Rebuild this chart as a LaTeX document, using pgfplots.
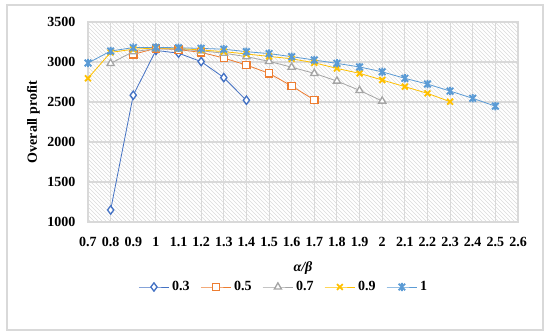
\documentclass[border=0pt]{standalone}
\usepackage{fontspec}
\setmainfont{Liberation Serif}
\usepackage{pgfplots}
\pgfplotsset{compat=1.18}
\usetikzlibrary{patterns}
\definecolor{cA}{HTML}{4472C4}
\definecolor{cB}{HTML}{ED7D31}
\definecolor{cC}{HTML}{A5A5A5}
\definecolor{cD}{HTML}{FFC000}
\definecolor{cE}{HTML}{5B9BD5}
\definecolor{gridc}{HTML}{D9D9D9}
\pgfdeclareplotmark{xstar}{%
  \pgfpathmoveto{\pgfqpoint{-0.8\pgfplotmarksize}{-0.8\pgfplotmarksize}}%
  \pgfpathlineto{\pgfqpoint{0.8\pgfplotmarksize}{0.8\pgfplotmarksize}}%
  \pgfpathmoveto{\pgfqpoint{-0.8\pgfplotmarksize}{0.8\pgfplotmarksize}}%
  \pgfpathlineto{\pgfqpoint{0.8\pgfplotmarksize}{-0.8\pgfplotmarksize}}%
  \pgfpathmoveto{\pgfqpoint{0pt}{-\pgfplotmarksize}}%
  \pgfpathlineto{\pgfqpoint{0pt}{\pgfplotmarksize}}%
  \pgfusepathqstroke}
\begin{document}
\begin{tikzpicture}
\path[use as bounding box] (-66pt,-84.75pt) rectangle (346.5pt,166.5pt);
\draw[gridc, line width=0.8pt] (-60.75pt,-81pt) rectangle (341.25pt,162.75pt);
\begin{axis}[
  at={(0,0)}, anchor=origin,
  scale only axis, width=322.5pt, height=150pt,
  xmin=0.7, xmax=2.6, ymin=1000, ymax=3500,
  xtick={0.7,0.8,...,2.61},
  ytick={1000,1500,...,3500},
  xticklabels={0.7,0.8,0.9,1,1.1,1.2,1.3,1.4,1.5,1.6,1.7,1.8,1.9,2,2.1,2.2,2.3,2.4,2.5,2.6},
  /pgf/number format/assume math mode=true,
  yticklabel style={/pgf/number format/1000 sep={}, xshift=-6pt},
  xticklabel style={yshift=-8pt},
  ticklabel style={font=\bfseries\fontsize{10.5}{12}\selectfont},
  major tick length=0pt,
  grid=major,
  grid style={gridc, line width=0.8pt},
  axis line style={gridc, line width=0.8pt},
  axis background/.style={pattern=north west lines, pattern color=black!14},
  xlabel={\textbf{\textit{α/β}}},
  every axis x label/.style={at={(axis description cs:0.5,0)}, anchor=center, yshift=-34.5pt, font=\fontsize{10.5}{12}\selectfont},
  legend style={at={(axis description cs:0.456,-0.325)}, anchor=center, legend columns=-1, draw=none, fill=none, font=\bfseries\fontsize{10.5}{12}\selectfont, /tikz/every even column/.append style={column sep=6pt}},
  legend image code/.code={\draw[mark repeat=2,mark phase=2] plot coordinates {(0cm,0cm) (0.4cm,0cm) (0.8cm,0cm)};},
  every axis plot/.append style={line width=0.6pt, mark size=3.1pt, mark options={solid, fill=white, line width=1pt}},
]
\addplot[cA, mark=diamond*] coordinates {(0.8,1150)(0.9,2585)(1.0,3145)(1.1,3110)(1.2,3005)(1.3,2805)(1.4,2522)};
\addlegendentry{0.3}
\addplot[cB, mark=square*, mark size=2.7pt] coordinates {(0.9,3096)(1.0,3170)(1.1,3155)(1.2,3120)(1.3,3050)(1.4,2962)(1.5,2858)(1.6,2700)(1.7,2525)};
\addlegendentry{0.5}
\addplot[cC, mark=triangle*] coordinates {(0.8,2983)(0.9,3130)(1.0,3165)(1.1,3160)(1.2,3140)(1.3,3110)(1.4,3067)(1.5,3008)(1.6,2935)(1.7,2858)(1.8,2762)(1.9,2645)(2.0,2512)};
\addlegendentry{0.7}
\addplot[cD, mark=x, mark options={line width=1.4pt}] coordinates {(0.7,2796)(0.8,3120)(0.9,3160)(1.0,3175)(1.1,3170)(1.2,3150)(1.3,3130)(1.4,3100)(1.5,3070)(1.6,3040)(1.7,2990)(1.8,2920)(1.9,2858)(2.0,2775)(2.1,2692)(2.2,2608)(2.3,2504)};
\addlegendentry{0.9}
\addplot[cE, mark=xstar, mark options={line width=1.4pt}] coordinates {(0.7,2987)(0.8,3137)(0.9,3180)(1.0,3182)(1.1,3178)(1.2,3170)(1.3,3160)(1.4,3129)(1.5,3105)(1.6,3067)(1.7,3025)(1.8,2983)(1.9,2938)(2.0,2877)(2.1,2796)(2.2,2724)(2.3,2637)(2.4,2546)(2.5,2448)};
\addlegendentry{1}
\end{axis}
\node[rotate=90, font=\bfseries\fontsize{10.5}{12}\selectfont] at (-41pt,75pt) {Overall profit};
\end{tikzpicture}
\end{document}
